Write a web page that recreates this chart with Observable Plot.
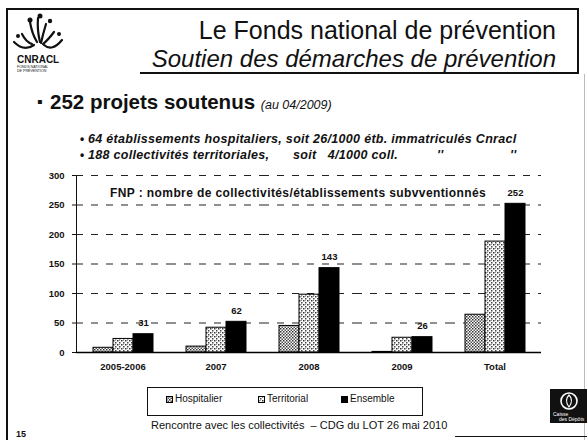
<!DOCTYPE html>
<html>
<head>
<meta charset="utf-8">
<script src="https://cdn.jsdelivr.net/npm/d3@7"></script>
<script src="https://cdn.jsdelivr.net/npm/@observablehq/plot@0.6"></script>
<style>
  html, body { margin:0; padding:0; background:#fff; }
  body { width:587px; height:440px; position:relative; overflow:hidden; font-family:"Liberation Sans", Arial, sans-serif; color:#111; }
  .abs { position:absolute; white-space:pre; line-height:1; }
  .line { position:absolute; background:#111; }
  #chart { position:absolute; left:0; top:160px; }
  .leg { position:absolute; top:394px; font-size:10px; line-height:10px; }
  .sw { display:inline-block; width:7px; height:7px; vertical-align:-0.5px; margin-right:2px; }
  .bul { font-size:12.5px; font-weight:bold; font-style:italic; letter-spacing:0.3px; }
</style>
</head>
<body>
<svg width="0" height="0" style="position:absolute">
  <defs>
    <pattern id="pHosp" width="3" height="3" patternUnits="userSpaceOnUse">
      <rect width="3" height="3" fill="#fff"/>
      <rect x="0" y="0" width="1.5" height="1.5" fill="#333"/>
      <rect x="1.5" y="1.5" width="1.5" height="1.5" fill="#555"/>
    </pattern>
    <pattern id="pTerr" width="4" height="4" patternUnits="userSpaceOnUse">
      <rect width="4" height="4" fill="#fff"/>
      <rect x="0" y="0" width="1.5" height="1.5" fill="#333"/>
      <rect x="2" y="2" width="1.5" height="1.5" fill="#444"/>
      <rect x="2" y="0" width="1" height="1" fill="#999"/>
    </pattern>
  </defs>
</svg>

<!-- slide frame -->
<div class="line" style="left:7px;top:8px;width:571px;height:1.5px"></div>
<div class="line" style="left:6px;top:8px;width:1.5px;height:432px"></div>
<div class="line" style="left:577px;top:8px;width:1.5px;height:66px"></div>
<div class="line" style="left:140px;top:72px;width:438px;height:1.5px"></div>
<div class="line" style="left:584px;top:74px;width:1px;height:366px;background:#bbb"></div>
<div class="line" style="left:455px;top:436px;width:132px;height:1px"></div>

<!-- CNRACL logo -->
<svg style="position:absolute;left:10px;top:12px" width="60" height="62">
  <g fill="none" stroke="#111" stroke-width="2.2" stroke-linecap="round">
    <path d="M4 30 Q14 40 24 33"/>
    <path d="M12 22 Q16 30 22 32"/>
    <path d="M20 10 Q22 22 27 30"/>
    <path d="M28 6 Q27 18 30 30"/>
    <path d="M36 12 Q33 22 31 31"/>
    <path d="M44 20 Q38 28 33 32"/>
    <path d="M52 28 Q42 40 34 33"/>
  </g>
  <g fill="#111"><circle cx="20" cy="8" r="2.5"/><circle cx="30" cy="4" r="2.5"/><circle cx="40" cy="9" r="2.2"/><circle cx="8" cy="24" r="2"/><circle cx="49" cy="22" r="2"/></g>
  <text x="7" y="51" font-size="10" font-weight="bold" font-family="Liberation Sans, Arial" fill="#111">CNRACL</text>
  <text x="7" y="56" font-size="3.6" font-family="Liberation Sans, Arial" fill="#111">FONDS NATIONAL</text>
  <text x="7" y="60" font-size="3.6" font-family="Liberation Sans, Arial" fill="#111">DE PRÉVENTION</text>
</svg>

<!-- header -->
<div class="abs" style="right:31px;top:18px;font-size:25px">Le Fonds national de prévention</div>
<div class="abs" style="right:31px;top:47px;font-size:24px;font-style:italic">Soutien des démarches de prévention</div>

<div class="abs" style="left:37px;top:94px;font-size:16px;font-weight:bold">▪</div>
<div class="abs" style="left:50px;top:92px;font-size:20.5px;font-weight:bold">252 projets soutenus <span style="font-size:12.5px;font-style:italic;font-weight:normal">(au 04/2009)</span></div>

<div class="abs" style="left:80px;top:133px;font-size:12px;font-weight:bold">•</div>
<div class="abs bul" style="left:88px;top:133px">64 établissements hospitaliers, soit 26/1000 étb. immatriculés Cnracl</div>
<div class="abs" style="left:80px;top:149px;font-size:12px;font-weight:bold">•</div>
<div class="abs bul" style="left:88px;top:149px">188 collectivités territoriales,</div>
<div class="abs bul" style="left:293px;top:149px">soit   4/1000 coll.</div>
<div class="abs bul" style="left:437px;top:149px">''</div>
<div class="abs bul" style="left:510px;top:149px">''</div>

<div id="chart"></div>

<div class="abs" style="left:110px;top:187px;font-size:12px;font-weight:bold;letter-spacing:0.4px">FNP : nombre de collectivités/établissements subvventionnés</div>

<!-- legend -->
<div style="position:absolute;left:147px;top:387px;width:274px;height:27px;border:1.2px solid #111"></div>
<div class="leg" style="left:166px"><svg class="sw" width="7" height="7"><rect x="0.5" y="0.5" width="6" height="6" fill="url(#pHosp)" stroke="#000"/></svg>Hospitalier</div>
<div class="leg" style="left:258px"><svg class="sw" width="7" height="7"><rect x="0.5" y="0.5" width="6" height="6" fill="url(#pTerr)" stroke="#000"/></svg>Territorial</div>
<div class="leg" style="left:341px"><svg class="sw" width="7" height="7"><rect x="0.5" y="0.5" width="6" height="6" fill="#000" stroke="#000"/></svg>Ensemble</div>

<div class="abs" style="left:151px;top:420px;font-size:11px">Rencontre avec les collectivités  – CDG du LOT 26 mai 2010</div>
<div class="abs" style="left:16px;top:430px;font-size:9px;font-weight:bold">15</div>

<!-- Caisse des Dépôts logo -->
<svg style="position:absolute;left:550px;top:389px" width="37" height="34">
  <rect width="37" height="34" fill="#111"/>
  <circle cx="19" cy="12" r="8" fill="none" stroke="#fff" stroke-width="1.6"/>
  <path d="M19 6 Q24 11 19 18 Q14 11 19 6 Z" fill="none" stroke="#fff" stroke-width="1.2"/>
  <text x="3" y="27" font-size="5" fill="#fff" font-family="Liberation Sans, Arial">Caisse</text>
  <text x="9" y="32" font-size="5" fill="#fff" font-family="Liberation Sans, Arial">des Dépôts</text>
</svg>

<script>
const categories = ["2005-2006", "2007", "2008", "2009", "Total"];
const series = ["Hospitalier", "Territorial", "Ensemble"];
const hospitalier = [8, 10, 45, 1, 64];
const territorial = [23, 42, 98, 25, 188];
const ensemble = [31, 52, 143, 26, 252];
const ensembleLabels = ["31", "62", "143", "26", "252"];
const yTicks = [0, 50, 100, 150, 200, 250, 300];

const data = categories.flatMap((c, i) => [
  {cat: c, serie: "Hospitalier", value: hospitalier[i]},
  {cat: c, serie: "Territorial", value: territorial[i]},
  {cat: c, serie: "Ensemble", value: ensemble[i]}
]);
const labels = categories.map((c, i) => ({cat: c, serie: "Ensemble", value: ensemble[i], text: ensembleLabels[i]}));

const chart = Plot.plot({
  width: 587,
  height: 220,
  marginLeft: 75,
  marginRight: 45,
  marginTop: 15,
  marginBottom: 28,
  style: {fontFamily: "Liberation Sans, Arial, sans-serif", fontSize: "9.5px", fontWeight: "bold", color: "#111", background: "transparent", overflow: "visible"},
  fx: {domain: categories, padding: 0, axis: "bottom", label: null, tickSize: 0, tickPadding: 11},
  x: {domain: series, paddingInner: 0, paddingOuter: 0.72, axis: null},
  y: {domain: [0, 300], ticks: yTicks, tickSize: 4, tickPadding: 8, label: null, line: true, tickFormat: d => d},
  color: {domain: series, range: ["url(#pHosp)", "url(#pTerr)", "#000"]},
  marks: [
    Plot.ruleY(yTicks.filter(d => d > 0), {stroke: "#222", strokeWidth: 1.2, strokeDasharray: "7,8"}),
    Plot.barY(data, {fx: "cat", x: "serie", y: "value", fill: "serie", stroke: "#000", strokeWidth: 1}),
    Plot.ruleY([0], {stroke: "#000", strokeWidth: 1.6}),
    Plot.text(labels, {fx: "cat", x: "serie", y: "value", text: "text", dy: -11, fontSize: 9.5})
  ]
});
document.getElementById("chart").appendChild(chart);
</script>
</body>
</html>
